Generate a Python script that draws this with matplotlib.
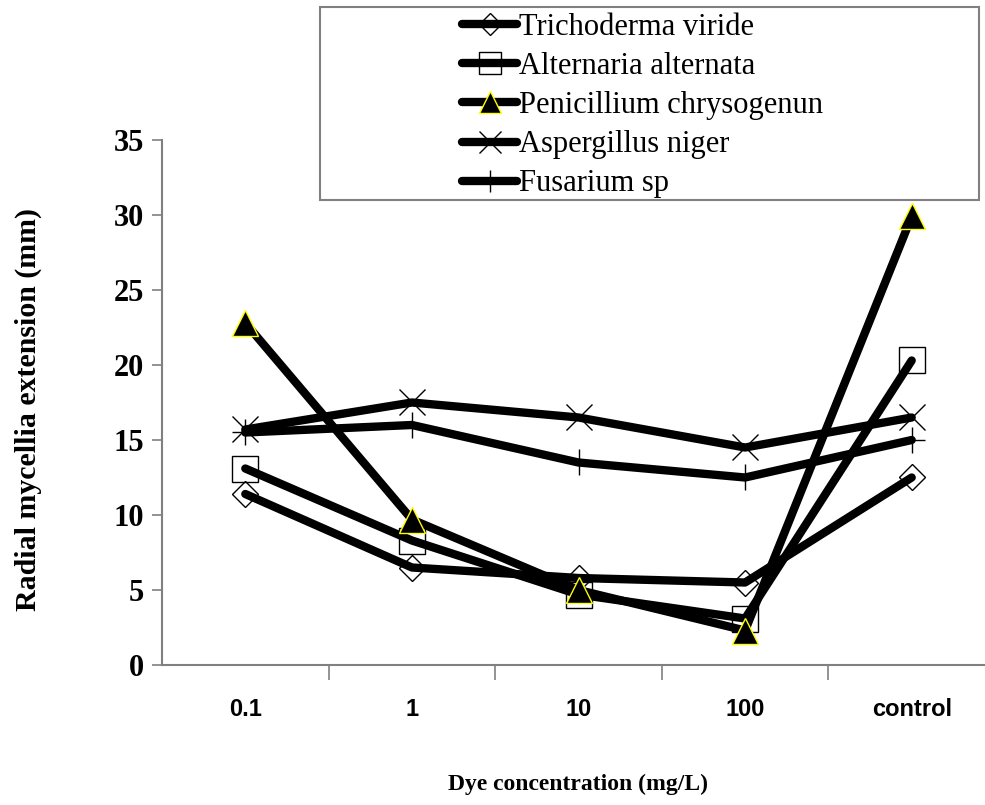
import numpy as np
import matplotlib
matplotlib.use("Agg")
import matplotlib.pyplot as plt
from matplotlib.patches import Rectangle

categories = ["0.1", "1", "10", "100", "control"]
trichoderma = [11.4, 6.5, 5.8, 5.5, 12.5]
alternaria = [13.1, 8.3, 4.7, 3.1, 20.3]
penicillium = [22.8, 9.7, 5.0, 2.3, 29.9]
aspergillus = [15.7, 17.5, 16.5, 14.5, 16.5]
fusarium = [15.5, 16.0, 13.5, 12.5, 15.0]

names = ["Trichoderma viride", "Alternaria alternata", "Penicillium chrysogenun",
         "Aspergillus niger", "Fusarium sp"]
series = [trichoderma, alternaria, penicillium, aspergillus, fusarium]

serif = ["Liberation Serif", "DejaVu Serif"]
sans = ["Liberation Sans", "DejaVu Sans"]

fig = plt.figure(figsize=(9.85, 8.05), dpi=100)
ax = fig.add_axes([162/985, 1-665/805, 833/985, 525/805])

x = np.arange(len(categories))
styles = [
    dict(marker="D", markersize=13.5, markerfacecolor="none", markeredgecolor="black"),
    dict(marker="s", markersize=19, markerfacecolor="none", markeredgecolor="black"),
    dict(marker="^", markersize=19, markerfacecolor="black", markeredgecolor="yellow"),
    dict(marker="x", markersize=19, markeredgecolor="black"),
    dict(marker="+", markersize=19, markeredgecolor="black"),
]
handles = []
for i, (vals, name, st) in enumerate(zip(series, names, styles)):
    h, = ax.plot(x, vals, color="black", linewidth=6, solid_capstyle="round",
                 solid_joinstyle="round", markeredgewidth=1.0, label=name,
                 zorder=3 + i, clip_on=False, **st)
    handles.append(h)

ax.set_xlim(-0.5, 4.5)
ax.set_ylim(0, 35)
ax.set_yticks(np.arange(0, 36, 5))
ax.set_xticks(x)
ax.set_xticks(np.arange(0.5, 4.0, 1.0), minor=True)
ax.set_xticklabels(categories, fontfamily=sans, fontweight="bold", fontsize=17)
ax.tick_params(axis="x", which="major", length=0, pad=24)
ax.tick_params(axis="x", which="minor", length=11, width=1.2, color="#808080")
ax.tick_params(axis="y", length=7, width=1.2, color="#808080", pad=6)
for lab in ax.get_yticklabels():
    lab.set_fontfamily(serif)
    lab.set_fontweight("bold")
    lab.set_fontsize(22)

for s in ["top", "right"]:
    ax.spines[s].set_visible(False)
for s in ["left", "bottom"]:
    ax.spines[s].set_color("#808080")
    ax.spines[s].set_linewidth(1.5)

ax.set_ylabel("Radial mycellia extension (mm)", fontfamily=serif, fontweight="bold",
              fontsize=21.5)
ax.yaxis.set_label_coords(-0.144, 0.486)
ax.set_xlabel("Dye concentration (mg/L)", fontfamily=serif, fontweight="bold",
              fontsize=17, labelpad=38)

# legend box drawn separately, it is wider than its entries
fig.patches.append(Rectangle((320/985, 1-200/805), 659/985, 193/805,
                             transform=fig.transFigure, facecolor="white",
                             edgecolor="#808080", linewidth=1.5, zorder=10))
leg = fig.legend(handles=handles, loc="upper left", bbox_to_anchor=(462/985, 1-13/805),
                 frameon=False, prop={"family": serif, "size": 22}, handlelength=1.8,
                 handletextpad=0.05, labelspacing=0.33, borderpad=0, borderaxespad=0,
                 markerscale=0.8)
leg.set_zorder(11)

fig.savefig("out.png", dpi=100)
